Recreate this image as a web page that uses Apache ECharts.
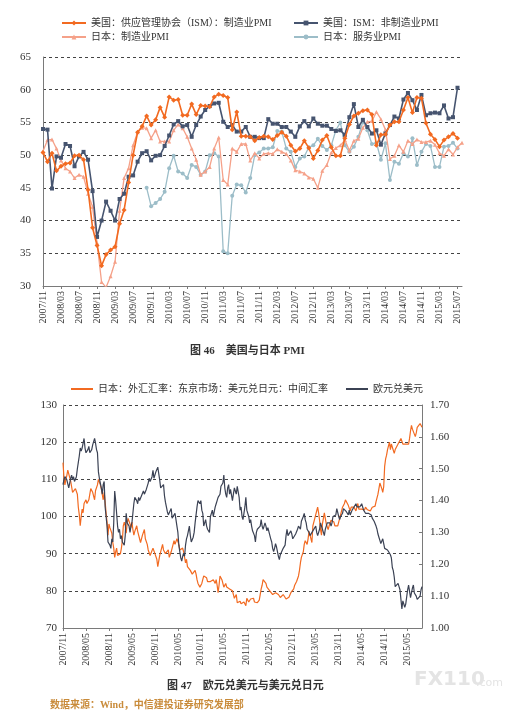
<!DOCTYPE html>
<html><head><meta charset="utf-8">
<script src="https://cdn.jsdelivr.net/npm/echarts@6/dist/echarts.min.js"></script>
<style>html,body{margin:0;padding:0;background:#fff}#c{width:524px;height:716px}</style>
</head><body><div id="c"></div>
<script>
// ---------- Chart 46: PMI (monthly, 2007/11 .. 2015/08) ----------
const pmiMonths = [];
for (let y = 2007, m = 11; y < 2015 || (y === 2015 && m <= 8); m++) {
  if (m > 12) { m = 1; y++; }
  pmiMonths.push(y + '/' + String(m).padStart(2, '0'));
}
const pmiTickLabels = ['2007/11','2008/03','2008/07','2008/11','2009/03','2009/07','2009/11','2010/03','2010/07','2010/11','2011/03','2011/07','2011/11','2012/03','2012/07','2012/11','2013/03','2013/07','2013/11','2014/03','2014/07','2014/11','2015/03','2015/07'];

const ismMfg = [50.4,49.0,50.3,47.6,48.3,48.7,48.8,49.9,50.0,49.3,44.7,38.9,36.2,33.1,34.8,35.5,36.0,39.5,41.6,45.8,
  50.0,53.5,54.4,56.0,54.6,55.4,57.3,55.8,58.9,58.4,58.5,56.1,56.1,57.8,56.2,57.6,57.5,57.4,58.9,59.3,
  59.1,58.8,53.9,56.6,52.9,52.9,52.8,52.2,52.7,52.9,52.8,52.4,53.0,53.5,52.9,51.5,50.6,51.0,52.2,51.1,
  49.5,50.7,52.3,53.0,51.2,49.9,49.9,52.6,54.7,56.0,56.4,56.8,56.9,56.2,51.5,53.1,53.2,54.6,55.1,55.1,
  56.9,58.8,56.5,58.8,58.7,54.9,53.2,52.4,51.3,52.3,52.8,53.3,52.6];
const ismNonMfg = [54.0,53.9,44.9,49.8,49.6,51.7,51.4,48.3,49.8,50.5,49.3,44.5,37.5,40.0,42.9,41.5,40.0,43.3,44.1,46.7,
  46.9,49.0,50.3,50.6,49.2,49.9,50.0,51.4,53.0,54.7,55.2,54.4,54.6,52.8,54.6,55.9,56.9,57.5,57.9,58.0,
  55.1,54.3,54.6,53.6,53.6,54.3,52.8,52.8,52.6,52.6,55.5,54.8,54.8,54.3,54.3,53.6,52.8,54.4,55.2,54.4,
  55.6,54.8,54.5,54.5,54.0,53.7,53.8,53.1,55.8,57.8,54.3,55.4,54.3,53.3,53.8,51.6,53.3,54.6,55.9,55.6,
  58.5,59.5,58.4,56.9,59.2,56.1,56.4,56.5,56.4,57.6,55.6,55.8,60.3];
const japanMfg = [50.6,52.3,52.4,51.0,49.2,48.0,47.5,46.5,47.0,46.7,44.1,42.1,36.6,30.6,29.8,31.5,33.7,41.5,46.5,48.0,
  51.5,53.5,54.2,54.1,52.6,53.8,52.1,52.1,52.1,53.8,54.7,54.1,52.8,51.0,49.3,47.0,47.5,48.2,51.0,52.7,
  46.2,45.5,51.0,50.5,51.7,51.7,49.2,50.3,49.5,50.2,50.3,50.2,50.9,50.5,50.2,49.2,47.7,47.5,47.2,46.6,
  46.4,45.0,47.6,48.5,50.4,51.1,51.5,52.3,50.7,52.2,52.5,54.2,55.1,55.2,56.6,55.5,53.9,49.4,49.9,51.5,
  50.5,52.2,51.7,52.4,52.0,52.0,52.2,51.6,50.3,49.9,50.9,50.1,51.2,51.9];
const japanSvc = [null,null,null,null,null,null,null,null,null,null,null,null,null,null,null,null,null,null,null,null,
  null,null,null,45.0,42.2,42.7,43.3,44.4,48.0,49.9,47.5,47.2,46.5,48.5,48.2,47.0,47.5,50.0,50.3,49.8,
  35.3,35.0,43.8,45.5,45.4,44.3,46.5,50.0,50.4,51.0,51.0,51.2,53.7,53.6,51.0,50.5,48.2,49.5,49.8,51.2,
  51.5,52.5,51.4,50.8,51.5,53.8,55.0,51.5,50.5,51.3,52.8,55.1,53.8,51.7,51.9,49.3,51.8,46.2,49.0,48.7,
  50.3,49.8,52.6,48.5,50.5,51.7,51.4,48.2,48.2,51.3,51.4,51.9,51.0];

// ---------- Chart 47: FX (weekly-ish, 4 readings per month, 2007/11 .. 2015/08) ----------
const fxDates = [];
for (let y = 2007, m = 11; y < 2015 || (y === 2015 && m <= 8); m++) {
  if (m > 12) { m = 1; y++; }
  const ym = y + '/' + String(m).padStart(2, '0');
  fxDates.push(ym + '/01', ym + '/08', ym + '/16', ym + '/24');
}
const fxTickLabels = ['2007/11','2008/05','2008/11','2009/05','2009/11','2010/05','2010/11','2011/05','2011/11','2012/05','2012/11','2013/05','2013/11','2014/05','2014/11','2015/05'];
const usdJpy = [
  114.5,110.5,108.5,110.0, 111.0,112.5,113.0,112.0,
  109.5,108.0,106.5,107.0, 106.5,107.5,107.8,106.0, 102.5,100.5,97.5,100.0, 102.0,101.0,103.5,104.0,
  104.5,103.5,104.0,104.5, 105.0,107.5,108.0,106.5, 106.5,104.5,107.0,107.5, 108.5,110.0,109.5,108.5,
  107.5,106.0,104.5,106.5, 104.0,101.0,98.5,95.0, 98.0,97.0,96.5,95.5, 93.0,91.5,89.0,90.5,
  91.5,89.5,89.0,89.5, 90.0,91.5,93.5,97.5, 98.5,97.5,95.5,98.0, 99.5,99.0,98.0,97.0,
  98.5,96.5,95.0,96.0, 96.0,97.5,96.0,95.5, 96.0,93.0,94.0,95.0, 94.5,96.5,94.0,93.5,
  92.5,91.0,90.5,89.5, 89.5,90.0,91.5,91.0, 90.0,89.5,88.5,86.5, 88.0,89.5,90.0,91.5,
  92.5,91.0,90.5,90.0, 89.5,90.5,91.0,89.0, 89.0,90.5,90.5,92.5, 93.5,92.5,93.0,94.0,
  94.0,92.5,91.0,90.5, 91.5,91.5,90.5,89.0, 87.5,88.5,86.5,87.0, 86.0,85.5,85.0,84.5,
  84.0,84.0,85.5,84.5, 83.0,82.0,81.5,81.0, 81.0,82.0,83.0,84.0, 83.5,84.0,83.5,82.5,
  82.5,83.0,82.5,82.0, 82.0,83.0,83.5,82.0, 83.0,81.5,79.5,81.5, 84.0,84.5,83.0,82.0,
  81.0,81.0,82.0,81.0, 80.5,80.5,80.5,80.5, 80.5,80.0,79.0,78.0, 77.5,79.0,76.8,76.6,
  77.0,77.2,76.5,76.8, 76.8,77.0,76.5,76.0, 78.0,77.5,77.0,77.5, 77.8,77.8,78.0,78.0,
  77.0,76.8,77.5,76.8, 76.5,77.5,79.0,80.5, 81.5,83.0,83.5,82.5, 82.0,81.0,81.0,80.5,
  80.0,79.5,79.5,79.0, 78.5,79.5,79.5,79.5, 79.5,79.0,78.5,78.2, 78.5,78.5,79.0,78.7,
  78.5,77.8,78.0,77.8, 78.3,78.5,79.5,79.8, 80.0,80.5,81.5,82.0, 82.5,83.0,84.0,85.5,
  87.5,89.0,89.5,90.5, 92.5,93.5,93.0,92.5, 94.0,96.0,95.0,94.0, 93.0,97.5,98.5,98.0,
  99.0,101.5,102.5,101.0, 99.0,96.5,95.0,98.0, 99.5,101.0,99.5,98.0, 97.5,96.5,97.5,97.5,
  99.0,99.5,99.0,98.5, 97.5,98.0,98.0,97.5, 98.5,99.5,100.5,101.5, 102.5,103.0,103.5,104.5,
  104.5,104.0,103.0,102.5, 101.5,102.5,102.0,102.0, 102.5,102.0,101.5,102.5, 103.5,102.0,102.5,102.0,
  102.0,101.5,101.5,101.8, 102.5,102.0,101.8,101.5, 101.7,101.5,101.5,102.5, 102.5,102.3,102.8,104.0,
  104.5,106.0,107.5,109.0, 109.0,107.5,106.5,108.0, 113.5,115.5,116.5,118.0, 119.0,120.0,118.0,119.5,
  119.5,119.0,117.0,118.0, 117.5,118.5,119.5,119.0, 119.5,121.0,120.5,119.5, 120.0,119.5,119.5,119.0,
  119.5,119.5,121.0,123.0, 124.5,123.5,123.5,123.0, 121.5,122.5,124.0,123.5, 124.0,125.0,124.5,124.0];
const eurUsd = [
  1.450,1.465,1.475,1.480, 1.465,1.470,1.440,1.445,
  1.470,1.480,1.465,1.475, 1.460,1.465,1.475,1.500, 1.520,1.540,1.565,1.555, 1.565,1.580,1.595,1.565,
  1.550,1.545,1.560,1.570, 1.550,1.545,1.560,1.575, 1.580,1.595,1.580,1.560, 1.550,1.490,1.470,1.470,
  1.440,1.420,1.450,1.460, 1.380,1.350,1.320,1.270, 1.270,1.260,1.250,1.280, 1.270,1.330,1.430,1.400,
  1.360,1.320,1.300,1.310, 1.280,1.290,1.270,1.270, 1.260,1.290,1.360,1.330, 1.330,1.320,1.300,1.320,
  1.330,1.360,1.390,1.410, 1.410,1.400,1.390,1.410, 1.400,1.405,1.415,1.420, 1.430,1.420,1.425,1.435,
  1.430,1.455,1.470,1.460, 1.460,1.475,1.495,1.470, 1.480,1.490,1.495,1.505, 1.505,1.465,1.440,1.435,
  1.440,1.450,1.415,1.395, 1.380,1.365,1.355,1.360, 1.360,1.375,1.345,1.340, 1.350,1.360,1.340,1.320,
  1.300,1.260,1.240,1.220, 1.210,1.225,1.235,1.225, 1.260,1.280,1.290,1.305, 1.320,1.290,1.270,1.270,
  1.285,1.300,1.330,1.355, 1.380,1.400,1.395,1.390, 1.400,1.370,1.360,1.320, 1.320,1.340,1.320,1.310,
  1.310,1.300,1.350,1.360, 1.370,1.350,1.365,1.380, 1.390,1.400,1.410,1.415, 1.420,1.445,1.440,1.455,
  1.480,1.440,1.420,1.410, 1.440,1.450,1.420,1.435, 1.440,1.400,1.420,1.440, 1.430,1.420,1.445,1.440,
  1.410,1.370,1.380,1.350, 1.340,1.360,1.380,1.410, 1.370,1.360,1.350,1.330, 1.340,1.320,1.305,1.300,
  1.290,1.270,1.300,1.310, 1.310,1.315,1.320,1.340, 1.320,1.310,1.320,1.330, 1.320,1.305,1.315,1.320,
  1.310,1.280,1.270,1.250, 1.240,1.250,1.265,1.255, 1.240,1.225,1.215,1.230, 1.230,1.235,1.250,1.255,
  1.260,1.290,1.310,1.290, 1.290,1.295,1.305,1.295, 1.280,1.275,1.285,1.295, 1.300,1.310,1.320,1.320,
  1.310,1.335,1.335,1.350, 1.360,1.340,1.330,1.310, 1.305,1.300,1.290,1.285, 1.285,1.305,1.310,1.300,
  1.320,1.300,1.290,1.295, 1.310,1.330,1.335,1.310, 1.300,1.290,1.310,1.320, 1.330,1.335,1.335,1.330,
  1.320,1.330,1.350,1.350, 1.355,1.355,1.375,1.380, 1.350,1.340,1.350,1.355, 1.360,1.375,1.375,1.370,
  1.365,1.360,1.355,1.370, 1.355,1.360,1.370,1.375, 1.380,1.385,1.390,1.380, 1.380,1.385,1.380,1.385,
  1.390,1.390,1.370,1.365, 1.360,1.355,1.360,1.360, 1.365,1.360,1.355,1.345, 1.340,1.335,1.335,1.320,
  1.310,1.295,1.285,1.275, 1.265,1.270,1.280,1.265, 1.250,1.245,1.250,1.245, 1.245,1.245,1.230,1.220,
  1.190,1.180,1.160,1.130, 1.130,1.135,1.140,1.130, 1.120,1.090,1.060,1.085, 1.080,1.065,1.075,1.080,
  1.120,1.135,1.115,1.095, 1.110,1.125,1.135,1.110, 1.110,1.100,1.090,1.095, 1.095,1.100,1.120,1.130];

const FONT = "'Liberation Serif','Noto Sans CJK SC',serif";
const TXT = '#333';
const AX = '#7a7a7a';
const C_ISM = '#f26a21', C_NM = '#46546f', C_JM = '#f5a189', C_JS = '#9cbdc8';
const C_JPY = '#f26a21', C_EUR = '#3b4254';

const isFxTick = (i, v) => v.endsWith('/01') && fxTickLabels.includes(v.slice(0, 7));

const chart = echarts.init(document.getElementById('c'), null, {renderer: 'canvas'});
chart.setOption({
  animation: false,
  backgroundColor: '#fff',
  textStyle: {fontFamily: FONT},
  legend: [
    {orient: 'vertical', left: 56, top: 13, itemGap: 4, itemWidth: 24, itemHeight: 6,
     textStyle: {fontFamily: FONT, fontSize: 10, color: TXT},
     data: ['美国：供应管理协会（ISM）：制造业PMI', '日本：制造业PMI']},
    {orient: 'vertical', left: 288, top: 13, itemGap: 4, itemWidth: 24, itemHeight: 6,
     textStyle: {fontFamily: FONT, fontSize: 10, color: TXT},
     data: ['美国：ISM：非制造业PMI', '日本：服务业PMI']},
    {orient: 'horizontal', left: 66, top: 379, itemGap: 18, itemWidth: 22, itemHeight: 2, icon: 'rect',
     textStyle: {fontFamily: FONT, fontSize: 10, color: TXT},
     data: ['日本：外汇汇率：东京市场：美元兑日元：中间汇率', '欧元兑美元']}
  ],
  grid: [
    {left: 43, right: 62, top: 57, bottom: 430},
    {left: 63, right: 102, top: 405, bottom: 88}
  ],
  xAxis: [
    {type: 'category', gridIndex: 0, data: pmiMonths, boundaryGap: false,
     axisLine: {lineStyle: {color: AX}},
     axisTick: {show: true, interval: (i, v) => pmiTickLabels.includes(v), length: 3, lineStyle: {color: AX}},
     axisLabel: {rotate: 90, interval: (i, v) => pmiTickLabels.includes(v), fontSize: 10, color: TXT, fontFamily: FONT, margin: 5},
     splitLine: {show: false}},
    {type: 'category', gridIndex: 1, data: fxDates, boundaryGap: false,
     axisLine: {lineStyle: {color: AX}},
     axisTick: {show: true, interval: isFxTick, length: 3, lineStyle: {color: AX}},
     axisLabel: {rotate: 90, interval: isFxTick, formatter: v => v.slice(0, 7), fontSize: 10, color: TXT, fontFamily: FONT, margin: 5},
     splitLine: {show: false}}
  ],
  yAxis: [
    {type: 'value', gridIndex: 0, min: 30, max: 65, interval: 5,
     axisLine: {show: true, lineStyle: {color: AX}}, axisTick: {show: false},
     axisLabel: {fontSize: 11, color: TXT, fontFamily: FONT, margin: 12},
     splitLine: {lineStyle: {type: [3, 3], color: '#444', width: 1}}},
    {type: 'value', gridIndex: 1, min: 70, max: 130, interval: 10,
     axisLine: {show: true, lineStyle: {color: AX}}, axisTick: {show: false},
     axisLabel: {fontSize: 11, color: TXT, fontFamily: FONT, margin: 6},
     splitLine: {lineStyle: {type: [3, 3], color: '#444', width: 1}}},
    {type: 'value', gridIndex: 1, position: 'right', min: 1.0, max: 1.7, interval: 0.1,
     axisLine: {show: true, lineStyle: {color: AX}},
     axisTick: {show: true, inside: true, length: 3, lineStyle: {color: AX}},
     axisLabel: {fontSize: 11, color: TXT, fontFamily: FONT, margin: 8, formatter: v => v.toFixed(2)},
     splitLine: {show: false}}
  ],
  series: [
    {name: '美国：供应管理协会（ISM）：制造业PMI', type: 'line', xAxisIndex: 0, yAxisIndex: 0, data: ismMfg,
     symbol: 'diamond', symbolSize: 5, showAllSymbol: true, lineStyle: {width: 1.6, color: C_ISM}, itemStyle: {color: C_ISM}, z: 4},
    {name: '美国：ISM：非制造业PMI', type: 'line', xAxisIndex: 0, yAxisIndex: 0, data: ismNonMfg,
     symbol: 'rect', symbolSize: 4, showAllSymbol: true, lineStyle: {width: 1.6, color: C_NM}, itemStyle: {color: C_NM}, z: 3},
    {name: '日本：制造业PMI', type: 'line', xAxisIndex: 0, yAxisIndex: 0, data: japanMfg,
     symbol: 'triangle', symbolSize: 4, showAllSymbol: true, lineStyle: {width: 1.3, color: C_JM}, itemStyle: {color: C_JM}, z: 2},
    {name: '日本：服务业PMI', type: 'line', xAxisIndex: 0, yAxisIndex: 0, data: japanSvc, connectNulls: false,
     symbol: 'circle', symbolSize: 4, showAllSymbol: true, lineStyle: {width: 1.3, color: C_JS}, itemStyle: {color: C_JS}, z: 1},
    {name: '日本：外汇汇率：东京市场：美元兑日元：中间汇率', type: 'line', xAxisIndex: 1, yAxisIndex: 1, data: usdJpy,
     symbol: 'none', lineStyle: {width: 1.2, color: C_JPY}, itemStyle: {color: C_JPY}, z: 2},
    {name: '欧元兑美元', type: 'line', xAxisIndex: 1, yAxisIndex: 2, data: eurUsd,
     symbol: 'none', lineStyle: {width: 1.2, color: C_EUR}, itemStyle: {color: C_EUR}, z: 3}
  ],
  graphic: [
    {type: 'text', left: 190, top: 346, style: {text: '图 46　美国与日本 PMI', font: "bold 11px " + FONT, fill: TXT}},
    {type: 'text', left: 167, top: 681, style: {text: '图 47　欧元兑美元与美元兑日元', font: "bold 11px " + FONT, fill: TXT}},
    {type: 'text', left: 50, top: 700, style: {text: '数据来源：Wind，中信建投证券研究发展部', font: "bold 10px " + FONT, fill: '#c98b3a'}},
    {type: 'text', left: 414, top: 670, style: {text: 'FX110', font: "bold 20px 'DejaVu Sans'", fill: '#e4e4e4'}},
    {type: 'text', left: 476, top: 678, style: {text: '.com', font: "11px 'DejaVu Sans'", fill: '#e4e4e4'}}
  ]
});
</script></body></html>
